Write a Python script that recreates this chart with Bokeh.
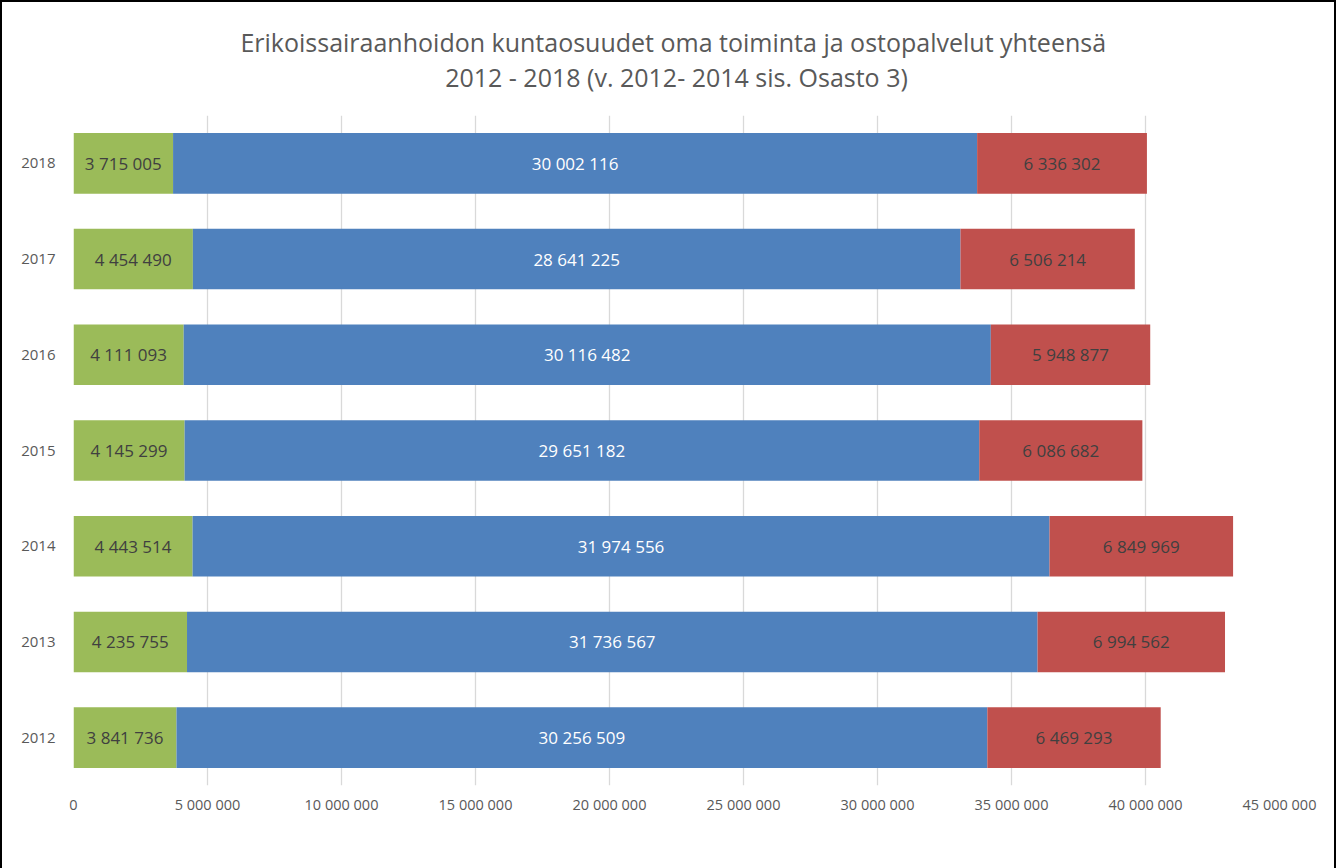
from bokeh.plotting import figure
from bokeh.models import (ColumnDataSource, FactorRange, Range1d, FixedTicker,
                          Legend, Title)
from bokeh.core.properties import value
from bokeh.embed import file_html
from bokeh.resources import INLINE

# ---- data ----
years = ["2012", "2013", "2014", "2015", "2016", "2017", "2018"]
series = ["Pyhäjoki", "Raahe", "Siikajoki"]
pyhajoki = [3841736, 4235755, 4443514, 4145299, 4111093, 4454490, 3715005]
raahe = [30256509, 31736567, 31974556, 29651182, 30116482, 28641225, 30002116]
siikajoki = [6469293, 6994562, 6849969, 6086682, 5948877, 6506214, 6336302]
colors = ["#9BBB59", "#4F81BD", "#C0504D"]
x_ticks = [0, 5000000, 10000000, 15000000, 20000000, 25000000,
           30000000, 35000000, 40000000, 45000000]
title_lines = ["Erikoissairaanhoidon kuntaosuudet  oma toiminta ja ostopalvelut yhteensä",
               "2012 - 2018 (v. 2012- 2014 sis. Osasto 3)"]

FONT = "Open Sans"
GREY = "#595959"


def fmt(v):
    return f"{v:,}".replace(",", " ")


# derived table
mid_p = [a / 2 for a in pyhajoki]
mid_r = [a + b / 2 for a, b in zip(pyhajoki, raahe)]
mid_s = [a + b + c / 2 for a, b, c in zip(pyhajoki, raahe, siikajoki)]
source = ColumnDataSource(dict(
    year=years,
    **{"Pyhäjoki": pyhajoki, "Raahe": raahe, "Siikajoki": siikajoki},
    mid_p=mid_p, mid_r=mid_r, mid_s=mid_s,
    lab_p=[fmt(v) for v in pyhajoki],
    lab_r=[fmt(v) for v in raahe],
    lab_s=[fmt(v) for v in siikajoki],
))

p = figure(frame_width=1206, frame_height=670, output_backend="svg",
           toolbar_location=None,
           y_range=FactorRange(factors=years), x_range=Range1d(0, 45000000),
           min_border_left=71, min_border_right=55, min_border_top=112,
           min_border_bottom=75)
p.styles = {"border-left": "2px solid #000", "border-top": "2px solid #000",
            "border-right": "2px solid #000"}

renderers = p.hbar_stack(series, y="year", height=0.633, color=colors,
                         source=source, line_color=None)

p.text(x="mid_p", y="year", text="lab_p", source=source, text_align="center",
       text_baseline="middle", text_font=value(FONT), text_font_size="17px",
       text_color="#404040")
p.text(x="mid_r", y="year", text="lab_r", source=source, text_align="center",
       text_baseline="middle", text_font=value(FONT), text_font_size="17px",
       text_color="#FFFFFF")
p.text(x="mid_s", y="year", text="lab_s", source=source, text_align="center",
       text_baseline="middle", text_font=value(FONT), text_font_size="17px",
       text_color="#404040")

# axes
p.xaxis.ticker = FixedTicker(ticks=x_ticks)
p.xaxis.major_label_overrides = {t: fmt(t) for t in x_ticks}
p.xaxis.axis_line_color = None
p.xaxis.major_tick_line_color = None
p.xaxis.minor_tick_line_color = None
p.xaxis.major_label_text_font = FONT
p.xaxis.major_label_text_font_size = "14.5px"
p.xaxis.major_label_text_color = GREY
p.xaxis.major_label_standoff = 3

p.yaxis.axis_line_color = None
p.yaxis.major_tick_line_color = None
p.yaxis.minor_tick_line_color = None
p.yaxis.major_label_text_font = FONT
p.yaxis.major_label_text_font_size = "15px"
p.yaxis.major_label_text_color = GREY
p.yaxis.major_label_standoff = 12

p.xgrid.grid_line_color = "#D9D9D9"
p.xgrid.grid_line_width = 1.3
p.ygrid.grid_line_color = None
p.outline_line_color = None

# two-line title
p.add_layout(Title(text="\n".join(title_lines), align="center",
                   text_align="center", text_font=FONT,
                   text_font_size="25px", text_color=GREY,
                   text_font_style="normal", text_line_height=1.04,
                   standoff=42), "above")

legend = Legend(items=[(s, [r]) for s, r in zip(series, renderers)],
                orientation="horizontal", location="top_center",
                glyph_width=11, glyph_height=11, label_standoff=6, spacing=20,
                label_text_font=FONT, label_text_font_size="16px",
                label_text_color=GREY, border_line_color=None,
                background_fill_alpha=0, padding=5, margin=20)
p.add_layout(legend, "below")

open("out.html", "w").write(file_html(p, INLINE))
